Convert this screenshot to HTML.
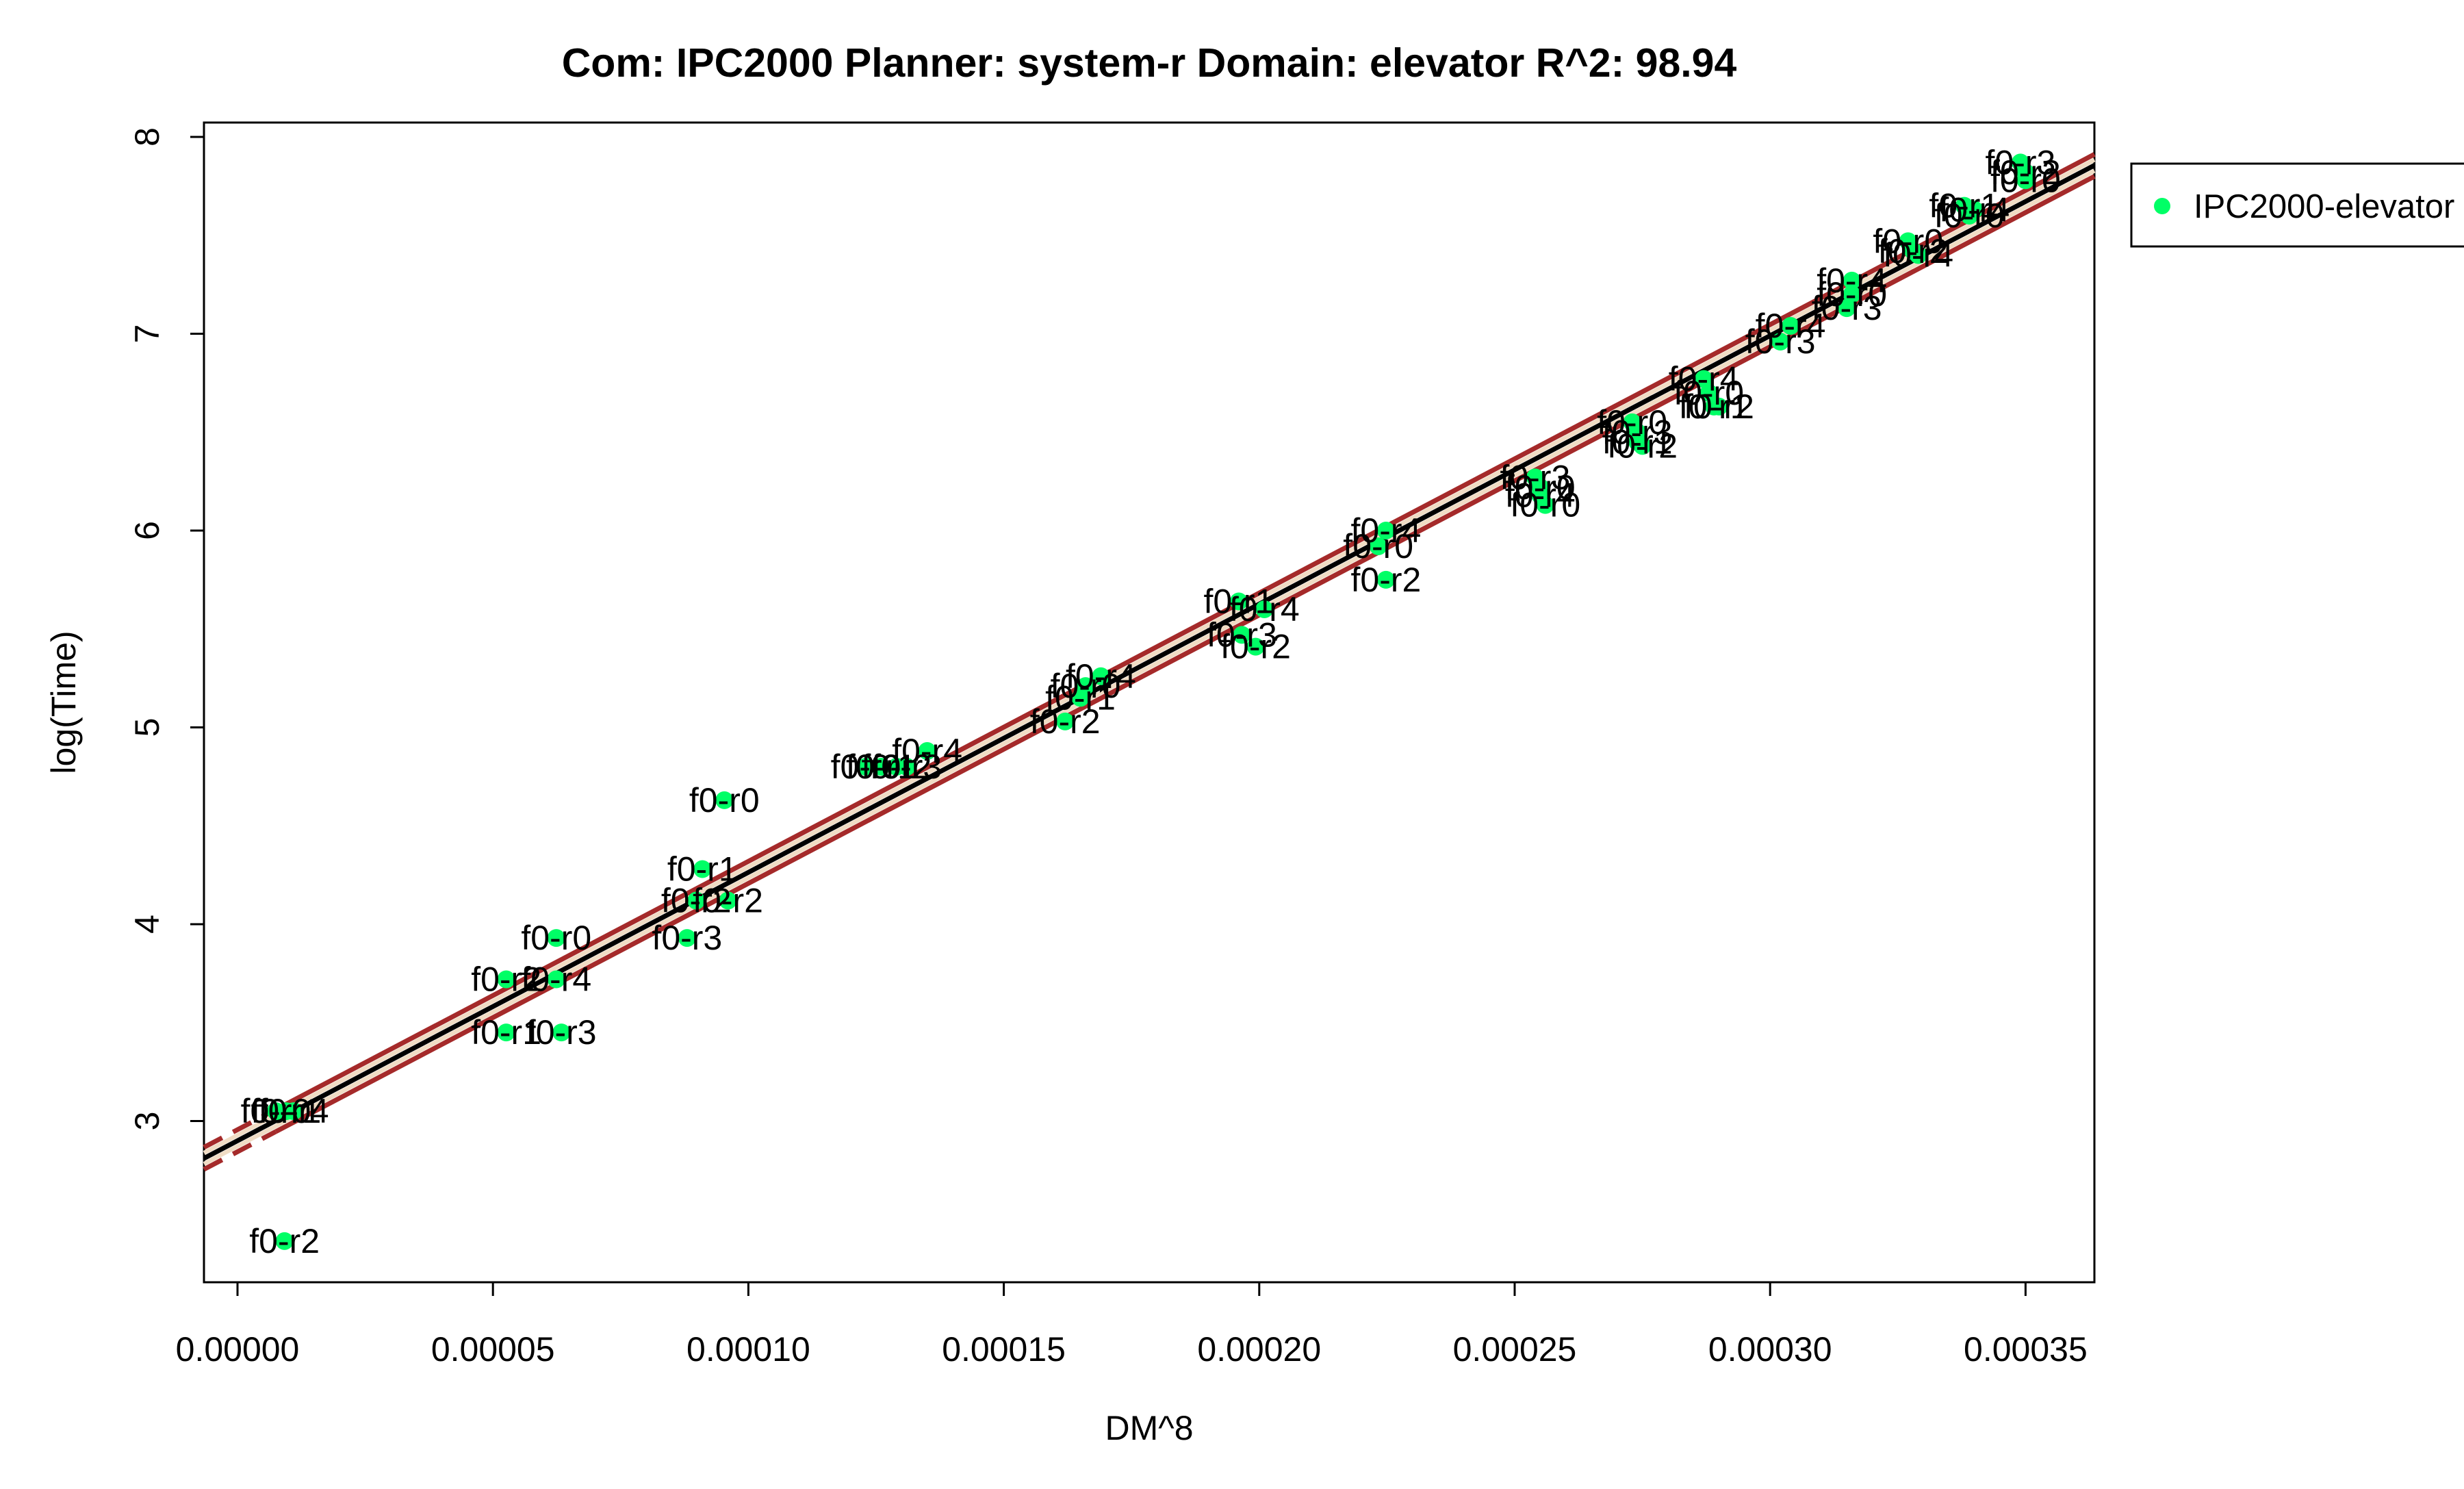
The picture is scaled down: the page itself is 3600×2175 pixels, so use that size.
<!DOCTYPE html>
<html><head><meta charset="utf-8"><style>
html,body{margin:0;padding:0;background:#fff}
svg{display:block;font-family:"Liberation Sans",Arial,sans-serif}
</style></head><body>
<svg id="chart" width="3600" height="2175" viewBox="0 0 3600 2175">
<text x="1679" y="112" text-anchor="middle" font-size="59" font-weight="bold">Com: IPC2000 Planner: system-r Domain: elevator R^2: 98.94</text>
<rect x="298" y="179" width="2762" height="1694" fill="none" stroke="#000" stroke-width="3"/>
<g id="xaxis"></g>
<g id="yaxis"></g>
<text x="1679" y="2103" text-anchor="middle" font-size="50">DM^8</text>
<text x="0" y="0" transform="translate(110,1026) rotate(-90)" text-anchor="middle" font-size="50">log(Time)</text>
<g id="fit"></g>
<g id="pts"></g>
<g>
<rect x="3114" y="239" width="500" height="121" fill="#fff" stroke="#000" stroke-width="3"/>
<circle cx="3159" cy="301" r="12" fill="#00ff66"/>
<text x="3205" y="318" font-size="49">IPC2000-elevator</text>
</g>
</svg>
<script>
const xTicks=[0,0.00005,0.0001,0.00015,0.0002,0.00025,0.0003,0.00035];
const xTickLabels=["0.00000","0.00005","0.00010","0.00015","0.00020","0.00025","0.00030","0.00035"];
const yTicks=[3,4,5,6,7,8];
const xVals=[0.0000075,0.0000095,0.000011,0.0000092,0.0000526,0.0000634,0.0000526,0.0000624,0.0000624,0.000088,0.0000898,0.000096,0.000091,0.0000953,0.000123,0.000126,0.000129,0.000131,0.000135,0.000162,0.000166,0.000169,0.000165,0.000196,0.000201,0.0001966,0.0001993,0.0002248,0.0002233,0.0002248,0.000254,0.000255,0.000255,0.000256,0.000273,0.000274,0.000274,0.000275,0.000287,0.000288,0.000289,0.00029,0.000302,0.000304,0.000315,0.000316,0.000316,0.000327,0.000328,0.000329,0.000338,0.000339,0.00034,0.000349,0.00035,0.00035];
const yVals=[3.05,3.05,3.05,2.39,3.45,3.45,3.72,3.72,3.93,3.93,4.12,4.12,4.28,4.63,4.80,4.80,4.80,4.80,4.88,5.03,5.21,5.26,5.15,5.64,5.6,5.47,5.41,6.0,5.92,5.75,6.27,6.22,6.18,6.13,6.55,6.5,6.45,6.43,6.77,6.7,6.63,6.63,6.96,7.04,7.13,7.27,7.2,7.47,7.42,7.4,7.65,7.6,7.63,7.87,7.82,7.78];
const labels=["f0-r0","f0-r1","f0-r4","f0-r2","f0-r1","f0-r3","f0-r2","f0-r4","f0-r0","f0-r3","f0-r2","f0-r2","f0-r1","f0-r0","f0-r0","f0-r1","f0-r2","f0-r3","f0-r4","f0-r2","f0-r0","f0-r4","f0-r1","f0-r1","f0-r4","f0-r3","f0-r2","f0-r4","f0-r0","f0-r2","f0-r3","f0-r0","f0-r4","f0-r0","f0-r0","f0-r3","f0-r1","f0-r2","f0-r4","f0-r0","f0-r1","f0-r2","f0-r3","f0-r4","f0-r3","f0-r4","f0-r0","f0-r0","f0-r2","f0-r4","f0-r1","f0-r0","f0-r4","f0-r3","f0-r2","f0-r0"];
const fitIntercept=2.9, fitSlope=13634, bandOuter=0.056, bandInner=0.028;
const NS="http://www.w3.org/2000/svg";
const sx=v=>347+v/0.00005*373.2;
const sy=v=>200+(8-v)*287.5;
function mk(tag,attrs,parent){const e=document.createElementNS(NS,tag);for(const k in attrs)e.setAttribute(k,attrs[k]);parent.appendChild(e);return e;}
const xa=document.getElementById('xaxis'),ya=document.getElementById('yaxis');
mk('line',{x1:sx(xTicks[0]),x2:sx(xTicks[xTicks.length-1]),y1:1873,y2:1873,stroke:'#000','stroke-width':3},xa);
xTicks.forEach((t,i)=>{
 const l=mk('line',{x1:sx(t),x2:sx(t),y1:1873,y2:1893,stroke:'#000','stroke-width':3},xa);
 
 
 const tx=mk('text',{x:sx(t),y:1988,'text-anchor':'middle','font-size':50},xa);tx.textContent=xTickLabels[i];
 
 
});
mk('line',{x1:298,x2:298,y1:sy(yTicks[0]),y2:sy(yTicks[yTicks.length-1]),stroke:'#000','stroke-width':3},ya);
yTicks.forEach(t=>{
 const l=mk('line',{x1:278,x2:298,y1:sy(t),y2:sy(t),stroke:'#000','stroke-width':3},ya);
 
 
 const tx=mk('text',{x:0,y:0,transform:`translate(232,${sy(t)}) rotate(-90)`,'text-anchor':'middle','font-size':50},ya);tx.textContent=String(t);
 
 
});
const fit=document.getElementById('fit');
const x0=(298-347)/373.2*0.00005, x1=(3060-347)/373.2*0.00005;
const xd=Math.min(...xVals);
const f=x=>fitIntercept+fitSlope*x;
function seg(off,color,w,dash,xa0,xa1,name){
 const l=mk('line',{x1:sx(xa0),y1:sy(f(xa0)+off),x2:sx(xa1),y2:sy(f(xa1)+off),stroke:color,'stroke-width':w},fit);
 if(dash)l.setAttribute('stroke-dasharray',dash);
 
 
}
[bandInner,-bandInner].forEach(o=>seg(o,'#f0dcc4',6,null,x0,x1,'prediction-band'));
[bandOuter,-bandOuter].forEach(o=>{seg(o,'#a52a2a',7,'30 18',x0,xd,'confidence-band-extrapolated');seg(o,'#a52a2a',7,null,xd,x1,'confidence-band');});
seg(0,'#000',7,null,x0,x1,'regression-line');
const pg=document.getElementById('pts');
xVals.forEach((x,i)=>{
 const c=mk('circle',{cx:sx(x),cy:sy(yVals[i]),r:13,fill:'#00ff66'},pg);
 
 
});
xVals.forEach((x,i)=>{
 const t=mk('text',{x:sx(x),y:sy(yVals[i])+17,'text-anchor':'middle','font-size':50},pg);
 t.textContent=labels[i];
 
 
});
</script>
</body></html>
